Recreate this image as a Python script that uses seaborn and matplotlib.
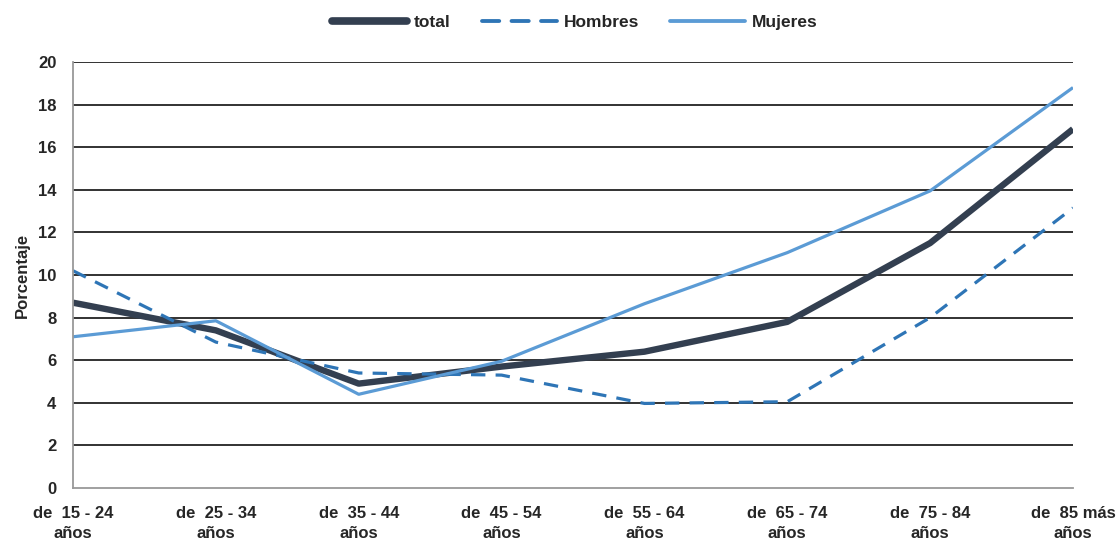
import matplotlib
matplotlib.use("Agg")
import matplotlib.pyplot as plt
import seaborn as sns
import pandas as pd
from matplotlib.lines import Line2D

categorias = ["de  15 - 24\naños", "de  25 - 34\naños", "de  35 - 44\naños",
              "de  45 - 54\naños", "de  55 - 64\naños", "de  65 - 74\naños",
              "de  75 - 84\naños", "de  85 más\naños"]
total = [8.7, 7.4, 4.9, 5.7, 6.4, 7.8, 11.5, 16.85]
hombres = [10.2, 6.85, 5.4, 5.3, 3.97, 4.05, 8.0, 13.15]
mujeres = [7.1, 7.85, 4.4, 5.95, 8.65, 11.05, 13.95, 18.8]
series = ["total", "Hombres", "Mujeres"]
yticks = list(range(0, 21, 2))

df = pd.DataFrame({
    "grupo": categorias * 3,
    "pos": list(range(len(categorias))) * 3,
    "valor": total + hombres + mujeres,
    "serie": [s for s in series for _ in categorias],
})

sns.set_theme(style="white")
plt.rcParams["font.family"] = ["Liberation Sans", "DejaVu Sans"]

fig = plt.figure(figsize=(11.2, 5.41), dpi=100)
ax = fig.add_axes([73 / 1120, 1 - 488 / 541, 1000 / 1120, 426 / 541])

palette = {"total": "#333f50", "Hombres": "#2e75b6", "Mujeres": "#5b9bd5"}
dashes = {"total": "", "Hombres": (4.5, 3.2), "Mujeres": ""}
sizes = {"total": 4.6, "Hombres": 2.3, "Mujeres": 2.3}

sns.lineplot(data=df, x="pos", y="valor", hue="serie", style="serie",
             size="serie", sizes=sizes, palette=palette, dashes=dashes,
             hue_order=series, style_order=series, size_order=series,
             ax=ax, legend=False)
for line in ax.get_lines():
    line.set_solid_capstyle("butt")
    line.set_dash_capstyle("butt")

ax.set_xlim(0, len(categorias) - 1)
ax.set_ylim(0, 20)
ax.set_yticks(yticks)
ax.set_xticks(range(len(categorias)))
ax.set_xticklabels(categorias, fontsize=12, fontweight="bold", linespacing=1.4)
ax.set_yticklabels([str(v) for v in yticks], fontsize=12, fontweight="bold")
ax.tick_params(axis="x", length=0, pad=13)
ax.tick_params(axis="y", length=0, pad=12)
ax.set_xlabel("")
ax.set_ylabel("Porcentaje", fontsize=12, fontweight="bold", labelpad=6)

for v in yticks[1:]:
    ax.axhline(v, color="#222222", lw=1.3, zorder=0.5)
for side in ["top", "right"]:
    ax.spines[side].set_visible(False)
for side in ["left", "bottom"]:
    ax.spines[side].set_color("#999999")
    ax.spines[side].set_linewidth(1.3)

handles = [Line2D([0], [0], color=palette[s], lw=sizes[s] * 1.2,
                  linestyle=(0, dashes[s]) if dashes[s] else "-",
                  solid_capstyle="round", dash_capstyle="round")
           for s in series]
fig.legend(handles, series, loc="center", bbox_to_anchor=(575 / 1120, 1 - 22 / 541),
           ncol=3, frameon=False, handlelength=4.3, handletextpad=0.4,
           columnspacing=1.8, prop={"weight": "bold", "size": 12.5})

fig.savefig("out.png", dpi=100)
